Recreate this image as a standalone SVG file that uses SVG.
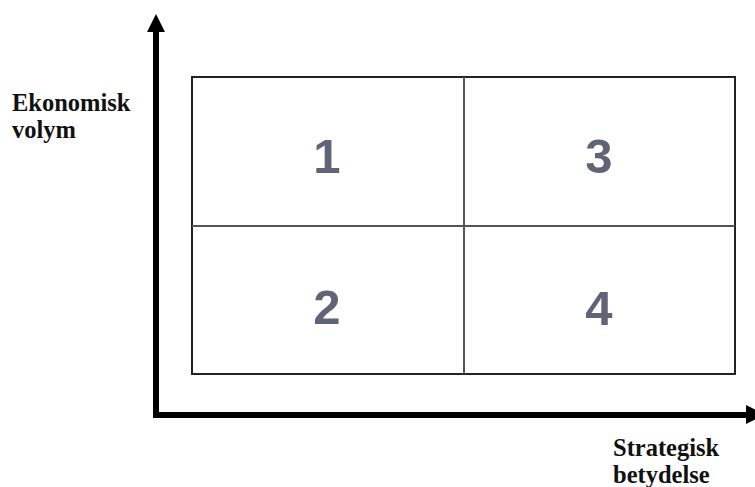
<svg xmlns="http://www.w3.org/2000/svg" width="755" height="487" viewBox="0 0 755 487">
<style>
.lbl{font-family:"Liberation Serif","Times New Roman",serif;font-weight:bold;font-size:24.5px;fill:#111}
.num{font-family:"Liberation Sans",Arial,sans-serif;font-weight:bold;font-size:49px;fill:#5f6577;text-anchor:middle}
.axis{stroke:#000;stroke-width:6;fill:none}
.cell{fill:#fff;stroke:#222;stroke-width:2}
.div{stroke:#555;stroke-width:2;fill:none}
</style>
<rect width="755" height="487" fill="#fff"/>
<g id="connectors">
<path class="axis" d="M156 415 V30"/>
<polygon points="147,32 165,32 156,14" fill="#000"/>
<path class="axis" d="M153 415 H748"/>
<polygon points="746,405 746,424 765,414.5" fill="#000"/>
</g>
<g id="grid">
<rect class="cell" x="192" y="77" width="543" height="297"/>
<path class="div" d="M464 77 V374 M192 226 H735"/>
</g>
<g id="q1"><text class="num" x="327" y="173">1</text></g>
<g id="q3"><text class="num" x="599" y="173">3</text></g>
<g id="q2"><text class="num" x="327" y="324">2</text></g>
<g id="q4"><text class="num" x="599" y="325">4</text></g>
<g id="ylabel"><text class="lbl" x="12" y="111">Ekonomisk</text><text class="lbl" x="12" y="138">volym</text></g>
<g id="xlabel"><text class="lbl" x="613" y="456">Strategisk</text><text class="lbl" x="613" y="483">betydelse</text></g>
</svg>
